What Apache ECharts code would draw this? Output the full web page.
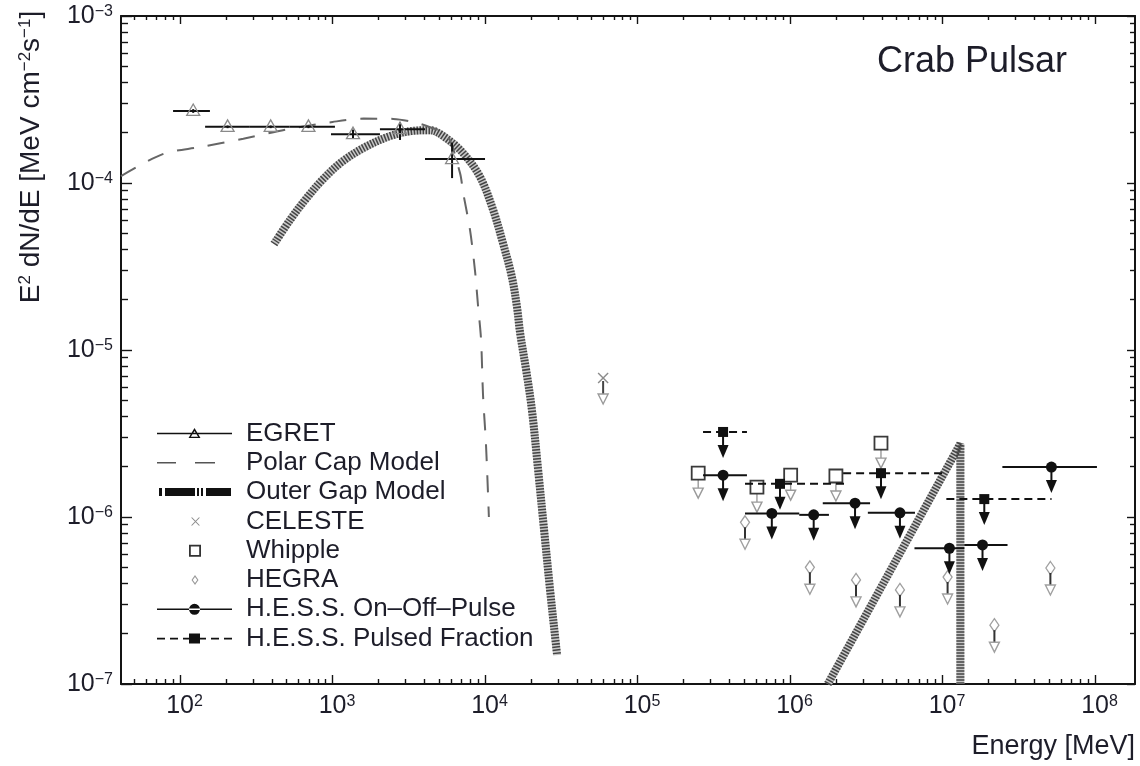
<!DOCTYPE html>
<html><head><meta charset="utf-8">
<script src="https://cdn.jsdelivr.net/npm/echarts@6/dist/echarts.min.js"></script>
<style>html,body{margin:0;padding:0;background:#fff}#c{width:1140px;height:766px}</style>
</head><body><div id="c"></div>
<script>
// ---------------- data ----------------
const xTickExponents = [2, 3, 4, 5, 6, 7, 8];
const yTickExponents = [-7, -6, -5, -4, -3];

// EGRET: energy (MeV), bin edges, E^2 dN/dE and its error range
const egretE   = [122, 205, 393, 695, 1362, 2770, 6080];
const egretLo  = [90, 146, 284, 523, 977, 2046, 4040];
const egretHi  = [157, 284, 523, 1037, 2046, 4040, 10000];
const egretF   = [2.70e-4, 2.17e-4, 2.17e-4, 2.17e-4, 1.96e-4, 2.10e-4, 1.39e-4];
const egretFLo = [2.63e-4, 2.13e-4, 2.13e-4, 2.13e-4, 1.85e-4, 1.81e-4, 1.07e-4];
const egretFHi = [2.77e-4, 2.21e-4, 2.21e-4, 2.21e-4, 2.09e-4, 2.32e-4, 1.74e-4];

// Polar cap model curve
const polarCapE = [41, 77, 135, 260, 500, 1000, 1600, 2500, 3500, 4400, 5640, 6850, 7180, 7980, 8590, 8990, 9420, 9700, 10150, 10600];
const polarCapF = [1.1e-4, 1.49e-4, 1.64e-4, 1.84e-4, 2.09e-4, 2.32e-4, 2.43e-4, 2.42e-4, 2.3e-4, 2.15e-4, 1.94e-4, 1.15e-4, 8.8e-5, 5.2e-5, 3.0e-5, 1.86e-5, 1.15e-5, 5.4e-6, 2.7e-6, 1.0e-6];

// Outer gap model: curvature component and inverse-Compton component
const outerGapE = [413, 526, 660, 854, 1153, 1633, 2383, 3320, 4350, 5500, 7180, 9270, 11300, 13100, 15000, 16200, 17000, 18600, 20300, 22300, 24400, 26700, 29200, 29700];
const outerGapF = [4.31e-5, 6.0e-5, 7.9e-5, 1.04e-4, 1.34e-4, 1.64e-4, 1.91e-4, 2.05e-4, 2.07e-4, 1.87e-4, 1.51e-4, 1.09e-4, 6.9e-5, 4.38e-5, 2.74e-5, 1.81e-5, 1.26e-5, 7.6e-6, 4.38e-6, 1.91e-6, 8.35e-7, 3.66e-7, 1.71e-7, 1.49e-7];
const outerGapIcE = [1.77e6, 1.31e7, 1.31e7];
const outerGapIcF = [1.0e-7, 2.75e-6, 1.0e-7];

// CELESTE upper limit
const celesteE = [5.95e4];
const celesteF = [6.8e-6];

// Whipple upper limits
const whippleE = [2.5e5, 6.07e5, 1.01e6, 2.0e6, 3.95e6];
const whippleF = [1.83e-6, 1.51e-6, 1.78e-6, 1.76e-6, 2.77e-6];

// HEGRA upper limits
const hegraE = [5.07e5, 1.35e6, 2.71e6, 5.26e6, 1.08e7, 2.19e7, 5.1e7];
const hegraF = [9.3e-7, 5.0e-7, 4.2e-7, 3.66e-7, 4.37e-7, 2.25e-7, 4.95e-7];

// H.E.S.S. On-Off-Pulse upper limits (bin centre, bin edges, value)
const hessE  = [3.64e5, 7.6e5, 1.43e6, 2.67e6, 5.26e6, 1.11e7, 1.83e7, 5.18e7];
const hessLo = [2.69e5, 5.07e5, 1.15e6, 1.64e6, 3.24e6, 6.55e6, 1.39e7, 2.47e7];
const hessHi = [5.22e5, 1.15e6, 1.8e6, 3.35e6, 6.6e6, 1.39e7, 2.67e7, 1.03e8];
const hessF  = [1.78e-6, 1.05e-6, 1.03e-6, 1.21e-6, 1.06e-6, 6.5e-7, 6.8e-7, 1.99e-6];

// H.E.S.S. Pulsed Fraction upper limits
const pulsedE  = [3.64e5, 8.6e5, 3.95e6, 1.88e7];
const pulsedLo = [2.69e5, 5.07e5, 2.23e6, 1.06e7];
const pulsedHi = [5.22e5, 2.4e6, 1.0e7, 5.19e7];
const pulsedF  = [3.23e-6, 1.58e-6, 1.83e-6, 1.28e-6];

// ---------------- styling / helpers ----------------
const FONT = '"Liberation Sans", Arial, Helvetica, sans-serif';
const TXT = '#1d1d29';
const AX = '#141414';
const X_MIN = 41, X_MAX = 1.83e8, Y_MIN = 1e-7, Y_MAX = 1e-3;

const pw = e => parseFloat('1e' + e);
const xMajor = xTickExponents.map(pw);
const yMajor = yTickExponents.map(pw);
function minorTicks(lo, hi, e0, e1) {
  const out = [];
  for (let e = e0; e <= e1; e++) for (let k = 2; k <= 9; k++) {
    const v = parseFloat(k + 'e' + e);
    if (v > lo && v < hi) out.push(v);
  }
  return out;
}
const xMinor = minorTicks(X_MIN, X_MAX, 1, 8);
const yMinor = minorTicks(Y_MIN, Y_MAX, -7, -4);

const zip = (a, b) => a.map((v, i) => [v, b[i]]);

const labelRich = {
  b: { fontSize: 25, fontFamily: FONT, color: TXT },
  p: { fontSize: 16, fontFamily: FONT, color: TXT, verticalAlign: 'top' }
};
const xFmt = v => '{b|10}{p|' + Math.round(Math.log10(v)) + '}';
const yFmt = v => '{b|10}{p|\u2212' + (-Math.round(Math.log10(v))) + '}';

function mkAxis(kind, position, ticks, len, showLine, label, extra) {
  const a = {
    type: 'log', logBase: 10, position: position,
    min: kind === 'x' ? X_MIN : Y_MIN, max: kind === 'x' ? X_MAX : Y_MAX,
    splitLine: { show: false }, minorTick: { show: false }, minorSplitLine: { show: false },
    axisLine: { show: showLine, onZero: false, lineStyle: { color: AX, width: 2 } },
    axisTick: { show: true, inside: true, length: len, customValues: ticks, lineStyle: { color: AX, width: 1.4 } },
    axisLabel: label || { show: false },
    axisPointer: { show: false }
  };
  return Object.assign(a, extra || {});
}

// ---------------- custom renderers ----------------
function openHead(x, y, w, h, col) {
  return { type: 'polygon', shape: { points: [[x - w / 2, y], [x + w / 2, y], [x, y + h]] },
           style: { fill: '#fff', stroke: col, lineWidth: 1.4 } };
}
function solidHead(x, y, w, h) {
  return { type: 'polygon', shape: { points: [[x - w / 2, y], [x + w / 2, y], [x, y + h]] },
           style: { fill: '#111', stroke: null } };
}
function vline(x, y1, y2, col, w) {
  return { type: 'line', shape: { x1: x, y1: y1, x2: x, y2: y2 }, style: { stroke: col, lineWidth: w } };
}

function renderEgret(params, api) {
  const f = api.value(1);
  const p = api.coord([api.value(0), f]);
  const l = api.coord([api.value(2), f]);
  const r = api.coord([api.value(3), f]);
  const lo = api.coord([api.value(0), api.value(4)]);
  const hi = api.coord([api.value(0), api.value(5)]);
  const x = p[0], y = p[1];
  return { type: 'group', children: [
    { type: 'line', shape: { x1: l[0], y1: y, x2: r[0], y2: y }, style: { stroke: '#111', lineWidth: 2 } },
    vline(x, hi[1], lo[1], '#111', 2),
    { type: 'polygon', shape: { points: [[x, y - 7], [x + 6.5, y + 4.5], [x - 6.5, y + 4.5]] },
      style: { fill: 'none', stroke: '#8a8a8a', lineWidth: 1.3 } }
  ] };
}
function renderCeleste(params, api) {
  const p = api.coord([api.value(0), api.value(1)]);
  const x = p[0], y = p[1], s = 5;
  return { type: 'group', children: [
    { type: 'line', shape: { x1: x - s, y1: y - s, x2: x + s, y2: y + s }, style: { stroke: '#8c8c8c', lineWidth: 1.4 } },
    { type: 'line', shape: { x1: x - s, y1: y + s, x2: x + s, y2: y - s }, style: { stroke: '#8c8c8c', lineWidth: 1.4 } },
    vline(x, y + 3, y + 16, '#444', 2),
    openHead(x, y + 16, 10, 10, '#9a9a9a')
  ] };
}
function renderWhipple(params, api) {
  const p = api.coord([api.value(0), api.value(1)]);
  const x = p[0], y = p[1];
  return { type: 'group', children: [
    vline(x, y + 6, y + 15, '#9a9a9a', 1.4),
    openHead(x, y + 15, 10, 10, '#9a9a9a'),
    { type: 'rect', shape: { x: x - 6.5, y: y - 6.5, width: 13, height: 13 },
      style: { fill: 'none', stroke: '#3a3a3a', lineWidth: 1.8 } }
  ] };
}
function renderHegra(params, api) {
  const p = api.coord([api.value(0), api.value(1)]);
  const x = p[0], y = p[1];
  return { type: 'group', children: [
    { type: 'polygon', shape: { points: [[x, y - 6.5], [x + 4.5, y], [x, y + 6.5], [x - 4.5, y]] },
      style: { fill: 'none', stroke: '#a0a0a0', lineWidth: 1.3 } },
    vline(x, y + 5, y + 17, '#333', 2),
    openHead(x, y + 17, 10, 10, '#a0a0a0')
  ] };
}
function renderHess(params, api) {
  const f = api.value(1);
  const p = api.coord([api.value(0), f]);
  const l = api.coord([api.value(2), f]);
  const r = api.coord([api.value(3), f]);
  const x = p[0], y = p[1];
  return { type: 'group', children: [
    { type: 'line', shape: { x1: l[0], y1: y, x2: r[0], y2: y }, style: { stroke: '#111', lineWidth: 2 } },
    vline(x, y, y + 15, '#111', 2),
    solidHead(x, y + 13, 11, 13),
    { type: 'circle', shape: { cx: x, cy: y, r: 5.5 }, style: { fill: '#111', stroke: null } }
  ] };
}
function renderPulsed(params, api) {
  const f = api.value(1);
  const p = api.coord([api.value(0), f]);
  const l = api.coord([api.value(2), f]);
  const r = api.coord([api.value(3), f]);
  const x = p[0], y = p[1];
  return { type: 'group', children: [
    { type: 'line', shape: { x1: l[0], y1: y, x2: r[0], y2: y }, style: { stroke: '#111', lineWidth: 2, lineDash: [8, 5] } },
    vline(x, y, y + 15, '#111', 2),
    solidHead(x, y + 13, 11, 13),
    { type: 'rect', shape: { x: x - 5, y: y - 5, width: 10, height: 10 }, style: { fill: '#111', stroke: null } }
  ] };
}

// ---------------- legend icons (84 x 14 boxes) ----------------
const ANCH = 'M0 0L0 0M84 14L84 14';
const LINE = 'M0 6.2L75 6.2L75 7.8L0 7.8Z';
const icons = {
  egret: 'path://' + ANCH + LINE + 'M37.5 1.5L43.5 11.5L31.5 11.5ZM37.5 4.6L33.9 10.3L41.1 10.3Z',
  polar: 'path://' + ANCH + 'M0 6.2L19 6.2L19 7.8L0 7.8ZM38 6.2L58 6.2L58 7.8L38 7.8Z',
  outer: 'path://' + ANCH + 'M2 3L5 3L5 11L2 11ZM8 3L38 3L38 11L8 11ZM40 3L42 3L42 11L40 11ZM44 3L46 3L46 11L44 11ZM49 3L74 3L74 11L49 11Z',
  celeste: 'path://' + ANCH + 'M34 3L35.3 3L43 11L41.7 11ZM41.7 3L43 3L35.3 11L34 11Z',
  whipple: 'path://' + ANCH + 'M32 1L44 1L44 13L32 13ZM33.8 2.8L33.8 11.2L42.2 11.2L42.2 2.8Z',
  hegra: 'path://' + ANCH + 'M38 2L41.5 7L38 12L34.5 7ZM38 3.9L35.8 7L38 10.1L40.2 7Z',
  hess: 'path://' + ANCH + LINE + 'M32 7A5.5 5.5 0 1 0 43 7A5.5 5.5 0 1 0 32 7Z',
  pulsed: 'path://' + ANCH + 'M0 6.2L8 6.2L8 7.8L0 7.8ZM13 6.2L21 6.2L21 7.8L13 7.8ZM26 6.2L49 6.2L49 7.8L26 7.8ZM54 6.2L62 6.2L62 7.8L54 7.8ZM67 6.2L75 6.2L75 7.8L67 7.8ZM32 2L43 2L43 12L32 12Z'
};
const legItem = (name, icon, color) => ({ name: name, icon: icon, itemStyle: { color: color, borderWidth: 0, opacity: 1 } });

const NAMES = ['EGRET', 'Polar Cap Model', 'Outer Gap Model', 'CELESTE', 'Whipple', 'HEGRA',
               'H.E.S.S. On\u2013Off\u2013Pulse', 'H.E.S.S. Pulsed Fraction'];

// ---------------- option ----------------
const chart = echarts.init(document.getElementById('c'), null, { renderer: 'canvas' });
const option = {
  animation: false,
  backgroundColor: '#fff',
  textStyle: { fontFamily: FONT },
  title: {
    text: 'Crab Pulsar', right: 73, top: 44, padding: 0,
    textStyle: { fontSize: 36, fontWeight: 'normal', fontFamily: FONT, color: TXT }
  },
  grid: { left: 121, right: 5, top: 16, bottom: 82, containLabel: false, outerBoundsMode: 'none' },
  legend: {
    orient: 'vertical', left: 157, top: 419, padding: 0,
    itemWidth: 84, itemHeight: 14, itemGap: 0.3, selectedMode: false,
    itemStyle: { borderWidth: 0 },
    textStyle: { fontSize: 26, fontFamily: FONT, color: TXT, lineHeight: 29 },
    data: [
      legItem(NAMES[0], icons.egret, '#111'),
      legItem(NAMES[1], icons.polar, '#555'),
      legItem(NAMES[2], icons.outer, '#111'),
      legItem(NAMES[3], icons.celeste, '#8c8c8c'),
      legItem(NAMES[4], icons.whipple, '#333'),
      legItem(NAMES[5], icons.hegra, '#9a9a9a'),
      legItem(NAMES[6], icons.hess, '#111'),
      legItem(NAMES[7], icons.pulsed, '#111')
    ]
  },
  xAxis: [
    mkAxis('x', 'bottom', xMajor, 9, true, {
      show: true, customValues: xMajor, formatter: xFmt, rich: labelRich, margin: 10, padding: [0, 0, 0, 9]
    }, {
      name: 'Energy [MeV]', nameLocation: 'end', nameGap: 0, nameMoveOverlap: false,
      nameTextStyle: { fontSize: 27, fontFamily: FONT, color: TXT, align: 'right', verticalAlign: 'top', padding: [49, 0, 0, 0] }
    }),
    mkAxis('x', 'bottom', xMinor, 5, false),
    mkAxis('x', 'top', xMajor, 8, true),
    mkAxis('x', 'top', xMinor, 4, false)
  ],
  yAxis: [
    mkAxis('y', 'left', yMajor, 11, true, {
      show: true, customValues: yMajor, formatter: yFmt, rich: labelRich, margin: 8
    }),
    mkAxis('y', 'left', yMinor, 7, false),
    mkAxis('y', 'right', yMajor, 8, true),
    mkAxis('y', 'right', yMinor, 5, false)
  ],
  graphic: [{
    type: 'text', x: 31, y: 157, rotation: Math.PI / 2,
    style: {
      text: '{b|E}{s|2}{b| dN/dE [MeV cm}{s|\u22122}{b|s}{s|\u22121}{b|]}',
      align: 'center', verticalAlign: 'middle',
      rich: {
        b: { fontSize: 28, fontFamily: FONT, fill: TXT },
        s: { fontSize: 17, fontFamily: FONT, fill: TXT, verticalAlign: 'top' }
      }
    }
  }],
  series: [
    { name: NAMES[2], type: 'line', data: zip(outerGapE, outerGapF), smooth: 0.35, symbol: 'none', z: 1, silent: true,
      lineStyle: { color: '#c8c8c8', width: 8, cap: 'butt' } },
    { name: NAMES[2], type: 'line', data: zip(outerGapE, outerGapF), smooth: 0.35, symbol: 'none', z: 2, silent: true,
      itemStyle: { color: '#111' }, lineStyle: { color: '#444', width: 8, type: [1.5, 1.5], cap: 'butt' } },
    { name: NAMES[2], type: 'line', data: zip(outerGapIcE, outerGapIcF), symbol: 'none', z: 1, silent: true,
      lineStyle: { color: '#c8c8c8', width: 8, cap: 'butt', join: 'bevel' } },
    { name: NAMES[2], type: 'line', data: zip(outerGapIcE, outerGapIcF), symbol: 'none', z: 2, silent: true,
      lineStyle: { color: '#444', width: 8, type: [1.5, 1.5], cap: 'butt', join: 'bevel' } },
    { name: NAMES[1], type: 'line', data: zip(polarCapE, polarCapF), smooth: 0.3, symbol: 'none', z: 3, silent: true,
      itemStyle: { color: '#555' }, lineStyle: { color: '#666', width: 2, type: [17, 14] } },
    { name: NAMES[0], type: 'custom', z: 5, renderItem: renderEgret, itemStyle: { color: '#111' },
      data: egretE.map((e, i) => [e, egretF[i], egretLo[i], egretHi[i], egretFLo[i], egretFHi[i]]) },
    { name: NAMES[3], type: 'custom', z: 5, renderItem: renderCeleste, itemStyle: { color: '#8c8c8c' },
      data: zip(celesteE, celesteF) },
    { name: NAMES[4], type: 'custom', z: 5, renderItem: renderWhipple, itemStyle: { color: '#333' },
      data: zip(whippleE, whippleF) },
    { name: NAMES[5], type: 'custom', z: 5, renderItem: renderHegra, itemStyle: { color: '#9a9a9a' },
      data: zip(hegraE, hegraF) },
    { name: NAMES[6], type: 'custom', z: 6, renderItem: renderHess, itemStyle: { color: '#111' },
      data: hessE.map((e, i) => [e, hessF[i], hessLo[i], hessHi[i]]) },
    { name: NAMES[7], type: 'custom', z: 6, renderItem: renderPulsed, itemStyle: { color: '#111' },
      data: pulsedE.map((e, i) => [e, pulsedF[i], pulsedLo[i], pulsedHi[i]]) }
  ]
};
chart.setOption(option);
</script>
</body></html>
